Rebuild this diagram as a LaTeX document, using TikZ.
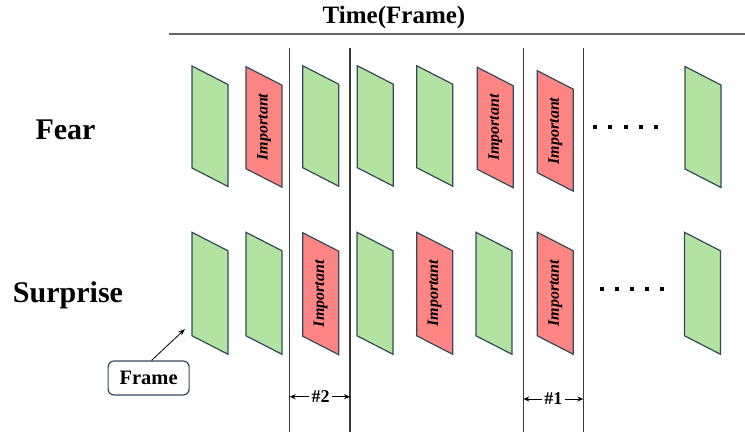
\documentclass[tikz,border=0pt]{standalone}
\usepackage{fontspec}
\setmainfont{Liberation Serif}
\usetikzlibrary{arrows.meta}
\definecolor{gfill}{HTML}{B3E3A0}
\definecolor{rfill}{HTML}{FF8585}
\definecolor{edgec}{HTML}{34495A}
\definecolor{vline}{HTML}{3A3A3A}
\tikzset{
  frm/.style={draw=edgec, line width=1.2pt, line join=miter},
  imp/.style={rotate=90, font=\fontsize{16}{16}\selectfont\bfseries\itshape, inner sep=0pt},
  divider/.style={draw=vline, line width=1.5pt},
  rowlabel/.style={anchor=base, font=\fontsize{30}{30}\selectfont\bfseries},
  dimlabel/.style={font=\fontsize{18}{18}\selectfont\bfseries, inner sep=2pt},
  dimarrow/.style={-{Stealth[length=6pt,width=5pt]}, line width=1pt},
  dotsq/.style={fill=black},
}
\newcommand\frshape[5]{% name, left, top, height, colour
  \draw[frm, fill=#5] (#2,#3) -- ++(36,18.5) -- ++(0,#4) -- ++(-36,-18.5) -- cycle;
  \coordinate (#1) at ({#2+18},{#3+9.25+#4/2});
}
\begin{document}
\begin{tikzpicture}[x=1pt,y=-1pt]
\useasboundingbox (0,0) rectangle (745,434);
% title and axis
\node[anchor=base, font=\fontsize{25}{25}\selectfont\bfseries] (title) at (394,23) {Time(Frame)};
\coordinate (axl) at (169.3,33.5);
\coordinate (axr) at (745,33.5);
\draw[draw=black!60, line width=2pt] (axl) -- (axr);
% dividers
\foreach \n/\x in {1/289.7,2/350,3/523.3,4/583.3}{
  \coordinate (v\n t) at (\x,48);
  \coordinate (v\n b) at (\x,432);
  \draw[divider] (v\n t) -- (v\n b);
}
% row labels
\node[rowlabel] (fear) at (65.5,139) {Fear};
\node[rowlabel] (surprise) at (68,302) {Surprise};
% row 1
\frshape{a1}{192}{66}{102}{gfill}
\frshape{a2}{246}{66.7}{102}{rfill}
\frshape{a3}{302.7}{65.7}{102}{gfill}
\frshape{a4}{357.3}{65.7}{102}{gfill}
\frshape{a5}{416.7}{65.7}{102}{gfill}
\frshape{a6}{477.3}{67.3}{102}{rfill}
\frshape{a7}{537.3}{70.7}{102}{rfill}
\frshape{a8}{685}{66.5}{102.5}{gfill}
\node[imp] (ia2) at (a2) {Important};
\node[imp] (ia6) at (a6) {Important};
\node[imp] (ia7) at (a7) {Important};
% row 2
\frshape{b1}{192}{232.3}{103.5}{gfill}
\frshape{b2}{246}{232.3}{103.5}{gfill}
\frshape{b3}{302.7}{232.7}{103.5}{rfill}
\frshape{b4}{357}{232.3}{103.5}{gfill}
\frshape{b5}{416.7}{232.3}{103.5}{rfill}
\frshape{b6}{476}{232.3}{103.5}{gfill}
\frshape{b7}{537.3}{232.3}{103.5}{rfill}
\frshape{b8}{684.5}{232.3}{103.5}{gfill}
\node[imp] (ib3) at (b3) {Important};
\node[imp] (ib5) at (b5) {Important};
\node[imp] (ib7) at (b7) {Important};
% dots
\foreach \k in {0,...,4}{
  \fill[dotsq] ({595+15.25*\k-2},124.7) rectangle ++(4,4);
  \fill[dotsq] ({601.7+15*\k-2},287.3) rectangle ++(4,4);
}
% frame callout
\node[draw=edgec, rounded corners=6pt, line width=1.2pt, minimum width=81pt, minimum height=34pt,
      inner sep=0pt, font=\fontsize{20.5}{20.5}\selectfont\bfseries] (fb) at (148.6,378) {Frame};
\coordinate (ftip) at (185,329);
\draw[-{Stealth[length=7pt,width=5pt]}, line width=0.8pt] ([xshift=3pt]fb.north) -- (ftip);
% dimension arrows
\node[dimlabel] (d2) at (320.5,396.7) {\#2};
\draw[dimarrow] (d2.west) -- (d2.west -| v1t);
\draw[dimarrow] (d2.east) -- (d2.east -| v2t);
\node[dimlabel] (d1) at (553.3,399) {\#1};
\draw[dimarrow] (d1.west) -- (d1.west -| v3t);
\draw[dimarrow] (d1.east) -- (d1.east -| v4t);
\end{tikzpicture}
\end{document}
